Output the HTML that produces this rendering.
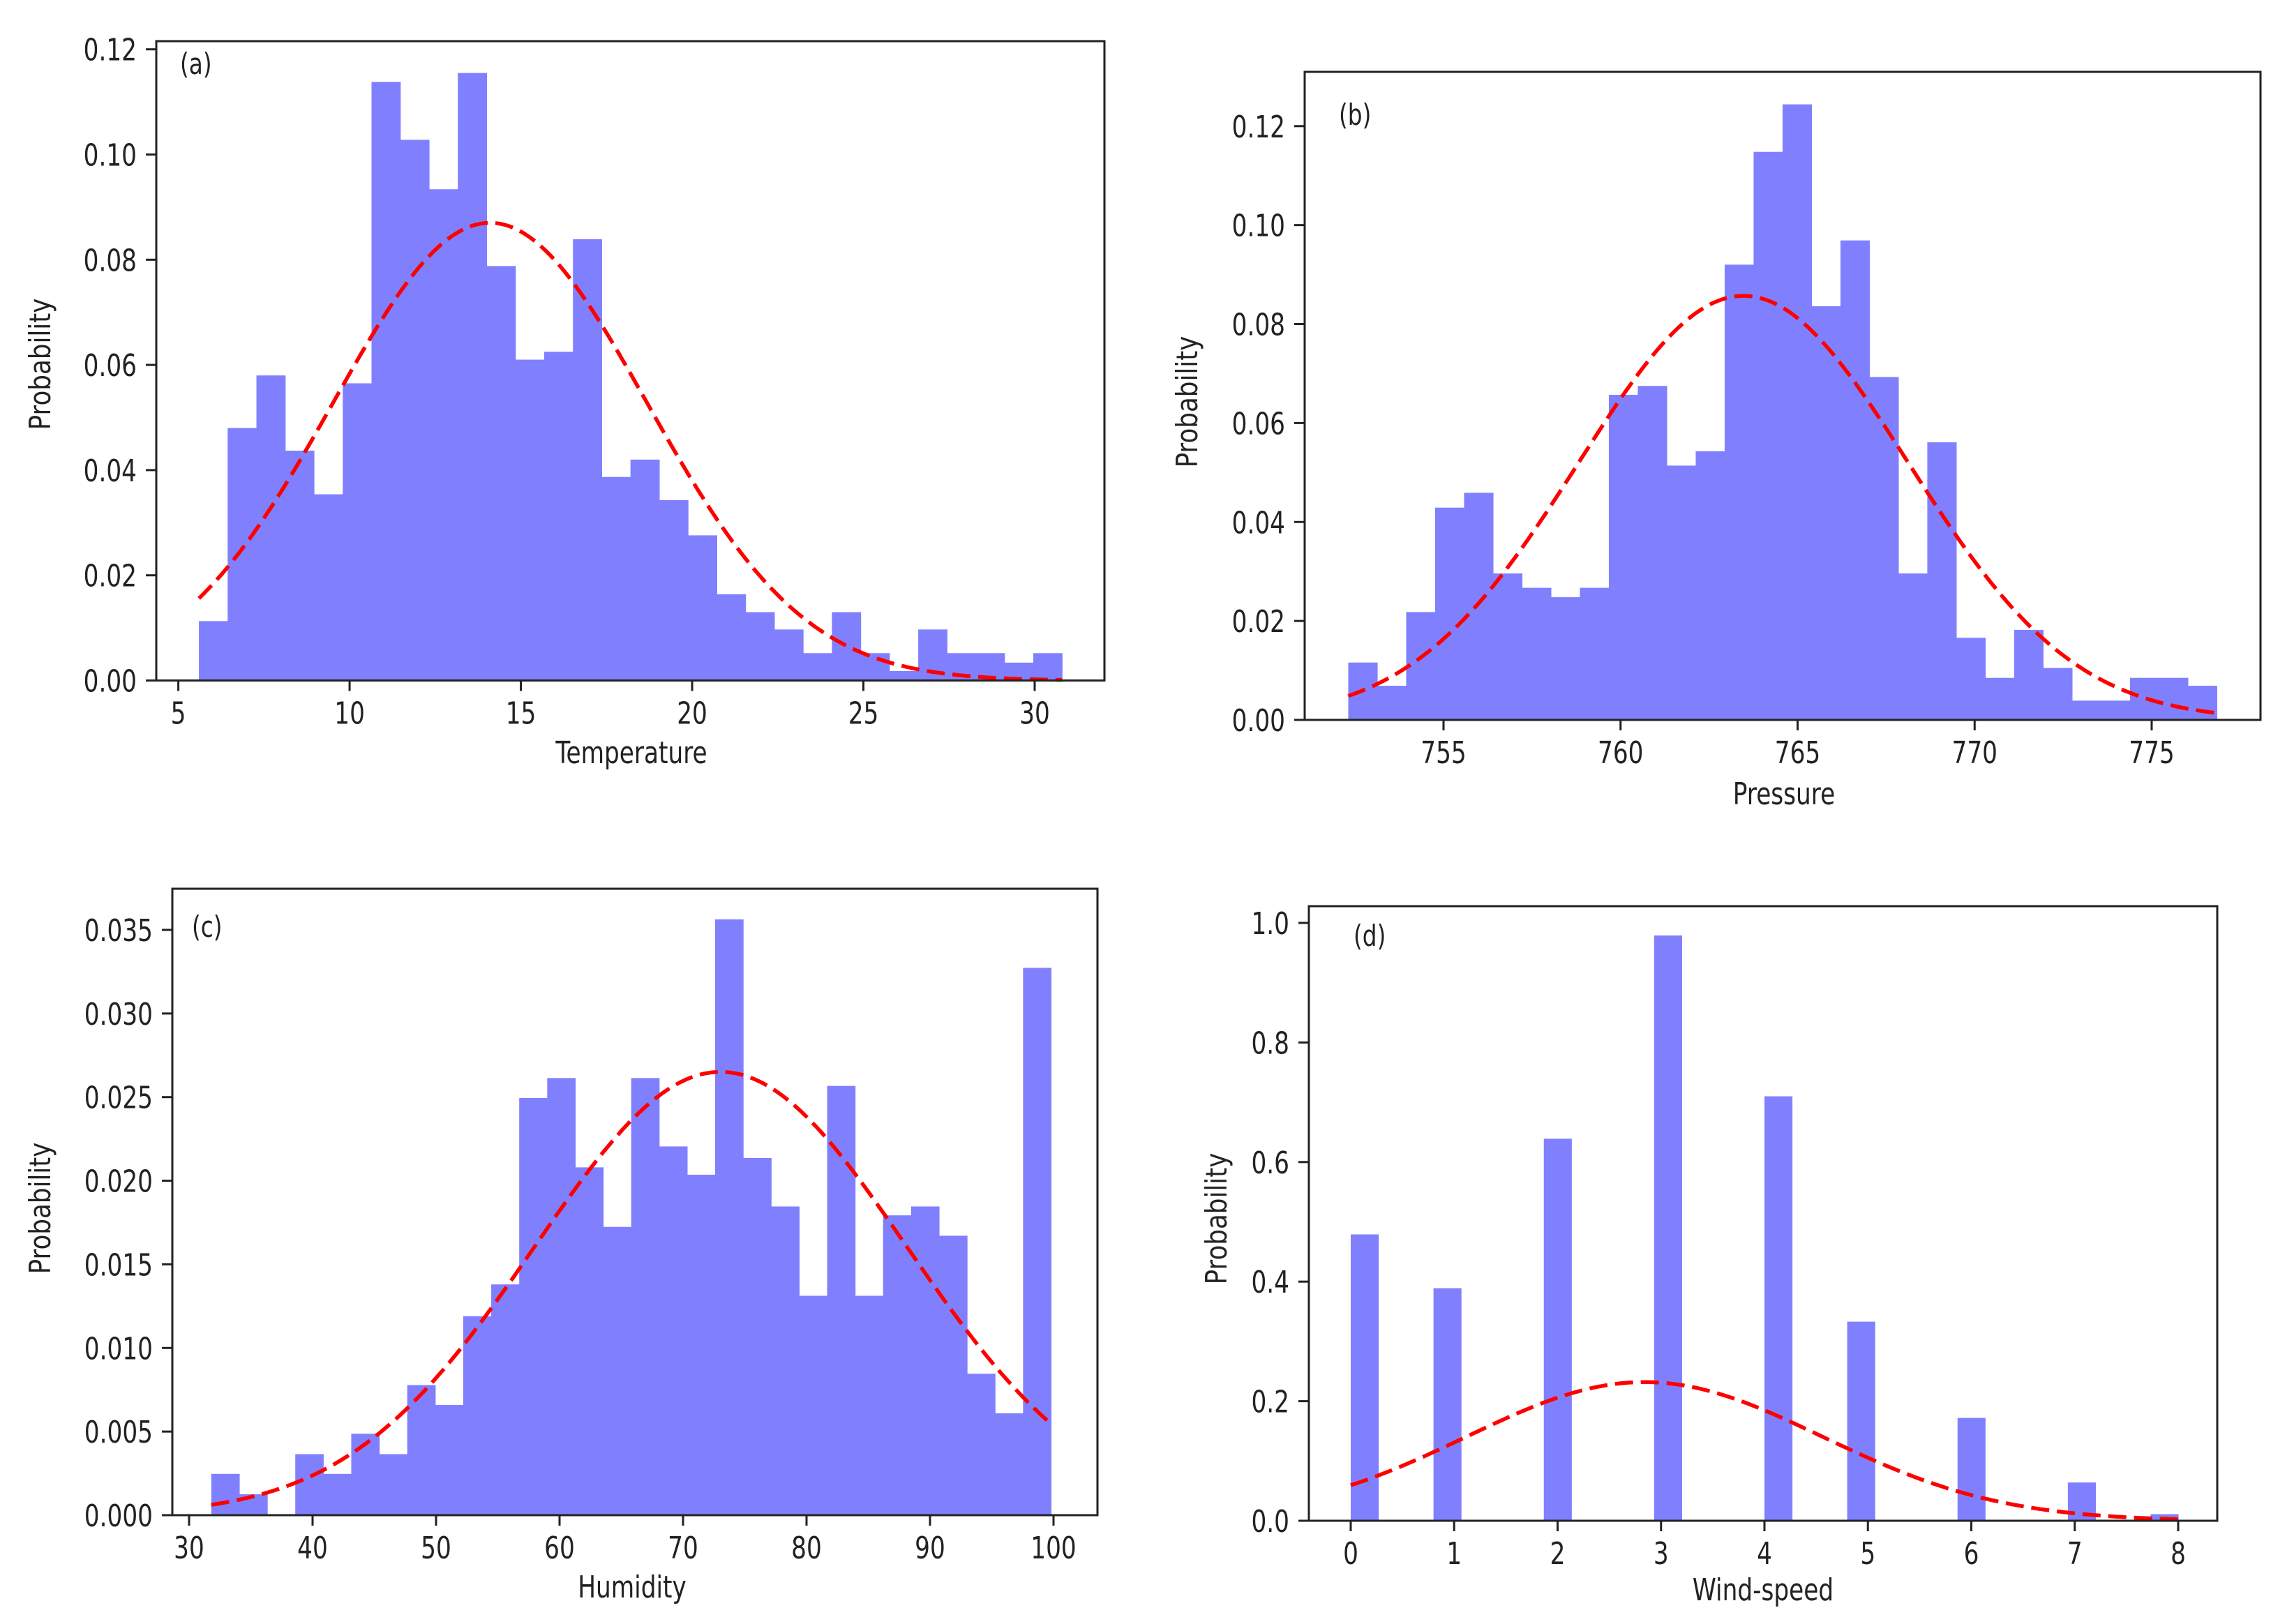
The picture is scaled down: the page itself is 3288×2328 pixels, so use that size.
<!DOCTYPE html>
<html><head><meta charset="utf-8"><style>
html,body{margin:0;padding:0;background:#fff;}
svg{display:block;}
text{font-family:"DejaVu Sans","Liberation Sans",sans-serif;fill:#222;}
</style></head><body>
<svg id="fig" width="3288" height="2328" viewBox="0 0 3288 2328" xmlns="http://www.w3.org/2000/svg"></svg>
<script>
// ---- Panel (a) Temperature ----
const tempStart = 5.6, tempEnd = 30.8;
const tempValues = [0.0113,0.048,0.058,0.0437,0.0354,0.0565,0.1138,0.1028,0.0934,0.1155,0.0788,0.061,0.0625,0.0839,0.0387,0.042,0.0343,0.0276,0.0164,0.013,0.0097,0.0052,0.013,0.0052,0.0018,0.0097,0.0052,0.0052,0.0034,0.0052];
const tempFit = [14.1, 4.585];
const tempXTicks = [5,10,15,20,25,30];
const tempYTicks = ["0.00","0.02","0.04","0.06","0.08","0.10","0.12"];
// ---- Panel (b) Pressure ----
const presStart = 752.31, presEnd = 776.84;
const presValues = [0.0116,0.0069,0.0218,0.0429,0.0459,0.0296,0.0267,0.0248,0.0267,0.0657,0.0675,0.0514,0.0543,0.092,0.1148,0.1244,0.0836,0.0969,0.0693,0.0296,0.0561,0.0166,0.0085,0.0182,0.0105,0.0039,0.0039,0.0085,0.0085,0.0069];
const presFit = [763.47, 4.655];
const presXTicks = [755,760,765,770,775];
const presYTicks = ["0.00","0.02","0.04","0.06","0.08","0.10","0.12"];
// ---- Panel (c) Humidity ----
const humStart = 31.8, humEnd = 99.8;
const humValues = [0.00247,0.00125,0,0.00365,0.00247,0.00487,0.00365,0.00778,0.00659,0.0119,0.0138,0.02495,0.02614,0.0208,0.01724,0.02614,0.02205,0.02036,0.03563,0.02136,0.01846,0.01312,0.02567,0.01312,0.01793,0.01846,0.01671,0.00846,0.00609,0.03273];
const humFit = [73.05, 15.05];
const humXTicks = [30,40,50,60,70,80,90,100];
const humYTicks = ["0.000","0.005","0.010","0.015","0.020","0.025","0.030","0.035"];
// ---- Panel (d) Wind-speed ----
const windStart = 0, windEnd = 8;
const windValues = [0.479,0,0,0.389,0,0,0,0.639,0,0,0,0.979,0,0,0,0.710,0,0,0.333,0,0,0,0.172,0,0,0,0.064,0,0,0.011];
const windFit = [2.84, 1.72];
const windXTicks = [0,1,2,3,4,5,6,7,8];
const windYTicks = ["0.0","0.2","0.4","0.6","0.8","1.0"];

const NS = "http://www.w3.org/2000/svg";
const svg = document.getElementById("fig");
function mk(tag, attrs, parent){
  const e = document.createElementNS(NS, tag);
  for (const k in attrs) e.setAttribute(k, attrs[k]);
  (parent||svg).appendChild(e);
  return e;
}
function txt(x,y,s,anchor,size,parent,rot){
  const t = mk("text",{"text-anchor":anchor,"font-size":size,
    transform: rot ? `translate(${x},${y}) rotate(-90) scale(0.85,1)` : `translate(${x},${y}) scale(0.78,1)`},parent);
  t.textContent = s;
  return t;
}

function panel(cfg){
  const g = mk("g",{});
  
  
  const sx = v => cfg.px0 + (v - cfg.vx0) * (cfg.px1 - cfg.px0) / (cfg.vx1 - cfg.vx0);
  const sy = v => cfg.py0 - v * (cfg.py0 - cfg.py1) / cfg.vy1;
  const n = cfg.values.length, w = (cfg.end - cfg.start) / n;
  cfg.values.forEach((v,i)=>{
    if (v <= 0) return;
    const x0 = sx(cfg.start + i*w), x1 = sx(cfg.start + (i+1)*w);
    const r = mk("rect",{x:x0,y:sy(v),width:x1-x0+0.6,height:sy(0)-sy(v),fill:"#8080ff"},g);
    
    
  });
  const [mu, sd] = cfg.fit;
  let d = "";
  for (let k=0;k<=300;k++){
    const xv = cfg.start + (cfg.end - cfg.start)*k/300;
    const yv = Math.exp(-((xv-mu)**2)/(2*sd*sd)) / (sd*Math.sqrt(2*Math.PI));
    d += (k?"L":"M") + sx(xv).toFixed(1) + "," + sy(yv).toFixed(1);
  }
  const p = mk("path",{d:d,fill:"none",stroke:"#ff0000","stroke-width":5.5,"stroke-dasharray":"26,11"},g);
  
  
  const f = mk("rect",{x:cfg.L,y:cfg.T,width:cfg.R-cfg.L,height:cfg.B-cfg.T,fill:"none",stroke:"#222","stroke-width":3},g);
  
  
  cfg.xticks.forEach(t=>{
    const x = sx(t);
    mk("line",{x1:x,x2:x,y1:cfg.B,y2:cfg.B+15,stroke:"#222","stroke-width":3},g);
    const l = txt(x, cfg.B+62, String(t), "middle", 44, g);
    
    
  });
  cfg.yticks.forEach(t=>{
    const y = sy(parseFloat(t));
    mk("line",{x1:cfg.L-15,x2:cfg.L,y1:y,y2:y,stroke:"#222","stroke-width":3},g);
    const l = txt(cfg.L-28, y+16, t, "end", 44, g);
    
    
  });
  const xl = txt(cfg.xlab[1], cfg.xlab[2], cfg.xlab[0], "middle", 44, g);
  
  
  const yl = txt(cfg.ylab[0], cfg.ylab[1], "Probability", "middle", 42, g, true);
  
  
  const pl = txt(cfg.tag[1], cfg.tag[2], cfg.tag[0], "start", 42, g);
  
  
}

panel({name:"temperature-histogram",values:tempValues,start:tempStart,end:tempEnd,fit:tempFit,xticks:tempXTicks,yticks:tempYTicks,
  L:224,R:1583,T:59,B:975.5,px0:255.6,vx0:5,px1:1483,vx1:30,py0:975.5,py1:70.7,vy1:0.12,
  xlab:["Temperature",905,1094],ylab:[72,522],tag:["(a)",258,106]});
panel({name:"pressure-histogram",values:presValues,start:presStart,end:presEnd,fit:presFit,xticks:presXTicks,yticks:presYTicks,
  L:1870,R:3240,T:103,B:1032,px0:2069,vx0:755,px1:3084,vx1:775,py0:1032,py1:180.8,vy1:0.12,
  xlab:["Pressure",2557,1153],ylab:[1716,576],tag:["(b)",1919,179]});
panel({name:"humidity-histogram",values:humValues,start:humStart,end:humEnd,fit:humFit,xticks:humXTicks,yticks:humYTicks,
  L:247,R:1573,T:1274,B:2172,px0:271,vx0:30,px1:1510,vx1:100,py0:2172,py1:1333,vy1:0.035,
  xlab:["Humidity",906,2290],ylab:[72,1732],tag:["(c)",275,1343]});
panel({name:"wind-speed-histogram",values:windValues,start:windStart,end:windEnd,fit:windFit,xticks:windXTicks,yticks:windYTicks,
  L:1876,R:3178,T:1299,B:2180,px0:1936,vx0:0,px1:3122,vx1:8,py0:2180,py1:1323,vy1:1.0,
  xlab:["Wind-speed",2527,2294],ylab:[1758,1747],tag:["(d)",1940,1356]});
</script>
</body></html>
